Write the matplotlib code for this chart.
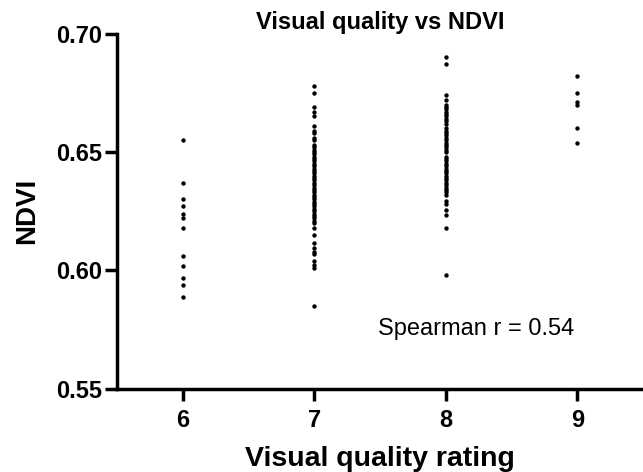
import matplotlib
matplotlib.use("Agg")
import matplotlib.pyplot as plt
import numpy as np

plt.rcParams['font.family'] = ['Liberation Sans', 'DejaVu Sans']

ratings = [6, 7, 8, 9]

ndvi_6 = [0.655, 0.637, 0.630, 0.627, 0.624, 0.622, 0.618, 0.606, 0.602,
          0.597, 0.594, 0.589]
ndvi_7 = [0.678, 0.675, 0.669, 0.667, 0.665, 0.661, 0.659, 0.658, 0.656,
          0.655, 0.653, 0.652, 0.651, 0.650, 0.649, 0.648, 0.647, 0.646,
          0.645, 0.644, 0.643, 0.642, 0.641, 0.640, 0.639, 0.638, 0.637,
          0.636, 0.635, 0.634, 0.633, 0.632, 0.631, 0.630, 0.629, 0.628,
          0.627, 0.626, 0.625, 0.624, 0.623, 0.622, 0.621, 0.620, 0.618,
          0.615, 0.6115, 0.6095, 0.608, 0.607, 0.604, 0.6025, 0.601, 0.585]
ndvi_8 = [0.690, 0.687, 0.674, 0.672, 0.670, 0.669, 0.668, 0.667, 0.666,
          0.665, 0.664, 0.663, 0.662, 0.660, 0.659, 0.658, 0.657, 0.656,
          0.655, 0.654, 0.653, 0.652, 0.651, 0.650, 0.648, 0.647, 0.646,
          0.645, 0.644, 0.643, 0.642, 0.641, 0.640, 0.639, 0.638, 0.637,
          0.636, 0.635, 0.634, 0.633, 0.632, 0.6295, 0.628, 0.6255, 0.6235,
          0.618, 0.598]
ndvi_9 = [0.682, 0.675, 0.671, 0.670, 0.660, 0.654]

groups = [ndvi_6, ndvi_7, ndvi_8, ndvi_9]
spearman_r = 0.54

fig = plt.figure(figsize=(6.43, 4.72), dpi=100)
ax = fig.add_axes([0.182, 0.176, 0.818, 0.753])

for r, vals in zip(ratings, groups):
    ax.scatter(np.full(len(vals), r), vals, s=10, color='black', linewidths=0, zorder=3)

ax.set_xlim(5.5, 9.5)
ax.set_ylim(0.55, 0.70)
ax.set_xticks(ratings)
ax.set_yticks([0.55, 0.60, 0.65, 0.70])
ax.set_yticklabels(['0.55', '0.60', '0.65', '0.70'])

for s in ['top', 'right']:
    ax.spines[s].set_visible(False)
for s in ['left', 'bottom']:
    ax.spines[s].set_linewidth(2.5)
ax.tick_params(width=2.5, length=8.5, labelsize=17)
ax.tick_params(axis='x', pad=6)
ax.tick_params(axis='y', pad=2)
for lbl in ax.get_xticklabels() + ax.get_yticklabels():
    lbl.set_fontweight('bold')

ax.set_xlabel("Visual quality rating", fontsize=20.5, fontweight='bold', labelpad=10)
ax.set_ylabel("NDVI", fontsize=20, fontweight='bold', labelpad=12)
ax.set_title("Visual quality vs NDVI", fontsize=17, fontweight='bold', pad=2)

ax.text(8.23, 0.5755, f"Spearman r = {spearman_r:.2f}", fontsize=17,
        ha='center', va='center')

fig.savefig("out.png", dpi=100)
